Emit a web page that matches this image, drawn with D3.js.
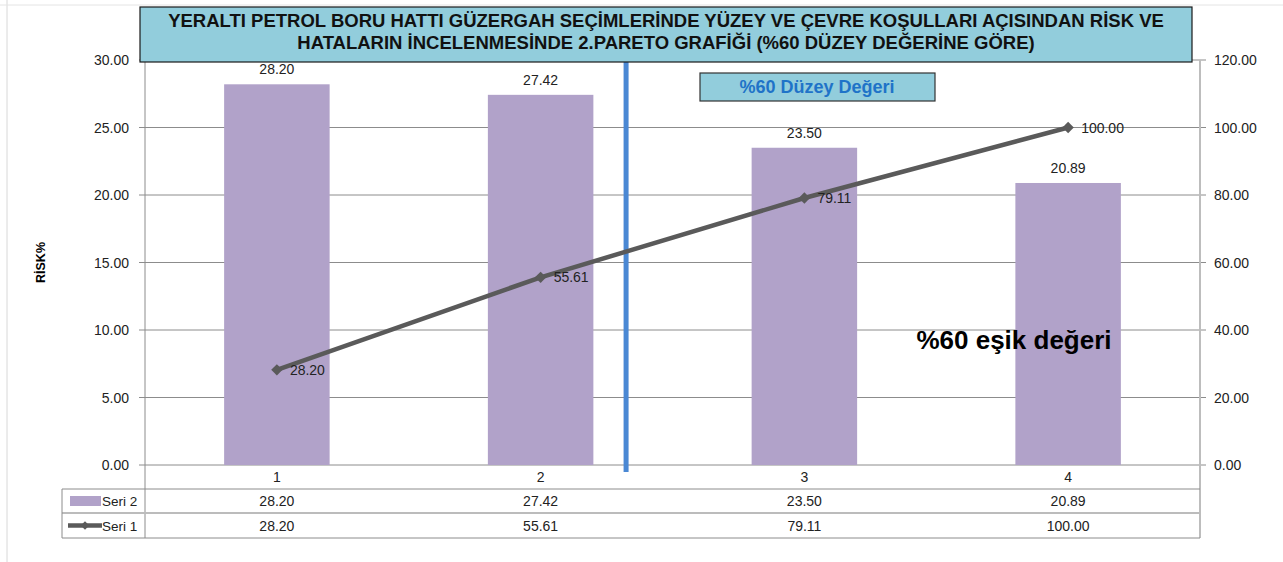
<!DOCTYPE html>
<html>
<head>
<meta charset="utf-8">
<script src="https://cdn.jsdelivr.net/npm/d3@7"></script>
<style>
  body { margin: 0; background: #fff; }
  text { font-family: "Liberation Sans", Arial, sans-serif; }
</style>
</head>
<body>
<div id="chart"></div>
<script>
var categories = ["1", "2", "3", "4"];
var seri2 = [28.20, 27.42, 23.50, 20.89];
var seri1 = [28.20, 55.61, 79.11, 100.00];
var leftTicks = [0, 5, 10, 15, 20, 25, 30];
var rightTicks = [0, 20, 40, 60, 80, 100, 120];
var titleLines = ["YERALTI PETROL BORU HATTI GÜZERGAH SEÇİMLERİNDE YÜZEY VE ÇEVRE KOŞULLARI AÇISINDAN RİSK VE",
                  "HATALARIN İNCELENMESİNDE  2.PARETO GRAFİĞİ (%60 DÜZEY DEĞERİNE GÖRE)"];
var thresholdIndex = 1.824; // position of the %60 line, in category units

var W = 1283, H = 562;
var pL = 145, pR = 1200, pT = 60, pB = 465;

var svg = d3.select("#chart")
    .append("svg")
    .attr("width", W)
    .attr("height", H);

// faint sheet gridlines
svg.append("line").attr("x1", 7).attr("x2", 7).attr("y1", 0).attr("y2", H)
    .attr("stroke", "#d8d8d8");
svg.append("line").attr("x1", 0).attr("x2", W).attr("y1", 5).attr("y2", 5)
    .attr("stroke", "#e4e4e4");

var x = d3.scaleBand()
    .domain(categories)
    .range([pL, pR])
    .paddingInner(0.6)
    .paddingOuter(0.3);
var xi = d3.scaleLinear().domain([0, 4]).range([pL, pR]);

var y = d3.scaleLinear().domain([0, 30]).range([pB, pT]);
var y2 = d3.scaleLinear().domain([0, 120]).range([pB, pT]);

// gridlines
svg.append("g")
    .selectAll("line")
    .data(leftTicks)
    .enter()
    .append("line")
      .attr("x1", pL - 6)
      .attr("x2", pR)
      .attr("y1", function(d) { return y(d); })
      .attr("y2", function(d) { return y(d); })
      .attr("stroke", "#8c8c8c")
      .attr("stroke-width", 1);

// left axis labels
svg.append("g")
    .selectAll("text")
    .data(leftTicks)
    .enter()
    .append("text")
      .attr("x", pL - 16)
      .attr("y", function(d) { return y(d) + 5; })
      .attr("text-anchor", "end")
      .attr("font-size", "14px")
      .attr("fill", "#222")
      .text(function(d) { return d.toFixed(2); });

// right axis
svg.append("g")
    .selectAll("line")
    .data(rightTicks)
    .enter()
    .append("line")
      .attr("x1", pR)
      .attr("x2", pR + 6)
      .attr("y1", function(d) { return y2(d); })
      .attr("y2", function(d) { return y2(d); })
      .attr("stroke", "#8c8c8c");
svg.append("g")
    .selectAll("text")
    .data(rightTicks)
    .enter()
    .append("text")
      .attr("x", pR + 14)
      .attr("y", function(d) { return y2(d) + 5; })
      .attr("font-size", "14px")
      .attr("fill", "#222")
      .text(function(d) { return d.toFixed(2); });

// axis title
svg.append("text")
    .attr("transform", "translate(45," + ((pT + pB) / 2) + ") rotate(-90)")
    .attr("text-anchor", "middle")
    .attr("font-size", "12.5px")
    .attr("font-weight", "bold")
    .text("RİSK%");

// bars
svg.append("g")
    .selectAll("rect")
    .data(seri2)
    .enter()
    .append("rect")
      .attr("x", function(d, i) { return x(categories[i]); })
      .attr("y", function(d) { return y(d); })
      .attr("width", x.bandwidth())
      .attr("height", function(d) { return pB - y(d); })
      .attr("fill", "#b1a2c9");

svg.append("g")
    .selectAll("text")
    .data(seri2)
    .enter()
    .append("text")
      .attr("x", function(d, i) { return x(categories[i]) + x.bandwidth() / 2; })
      .attr("y", function(d) { return y(d) - 10; })
      .attr("text-anchor", "middle")
      .attr("font-size", "14px")
      .attr("fill", "#222")
      .text(function(d) { return d.toFixed(2); });

// plot area border lines (extend down through table)
var tableTop = 489, rowMid = 513, tableBottom = 538, tableLeft = 62;
svg.append("line").attr("x1", pL).attr("x2", pL).attr("y1", pT).attr("y2", tableBottom)
    .attr("stroke", "#8c8c8c");
svg.append("line").attr("x1", pR).attr("x2", pR).attr("y1", pT).attr("y2", tableBottom)
    .attr("stroke", "#bdbdbd").attr("stroke-width", 2);

// threshold line
svg.append("line")
    .attr("x1", xi(thresholdIndex)).attr("x2", xi(thresholdIndex))
    .attr("y1", pT).attr("y2", pB + 7)
    .attr("stroke", "#4a88d4")
    .attr("stroke-width", 5);

// cumulative line
var cx = function(d, i) { return x(categories[i]) + x.bandwidth() / 2; };
var line = d3.line()
    .x(function(d, i) { return cx(d, i); })
    .y(function(d) { return y2(d); });
svg.append("path")
    .datum(seri1)
    .attr("d", line)
    .attr("fill", "none")
    .attr("stroke", "#5a5a5a")
    .attr("stroke-width", 4.5);
svg.append("g")
    .selectAll("path")
    .data(seri1)
    .enter()
    .append("path")
      .attr("d", d3.symbol().type(d3.symbolSquare).size(64))
      .attr("transform", function(d, i) { return "translate(" + cx(d, i) + "," + y2(d) + ") rotate(45)"; })
      .attr("fill", "#5a5a5a");
svg.append("g")
    .selectAll("text")
    .data(seri1)
    .enter()
    .append("text")
      .attr("x", function(d, i) { return cx(d, i) + 13; })
      .attr("y", function(d) { return y2(d) + 5; })
      .attr("font-size", "14px")
      .attr("fill", "#222")
      .text(function(d) { return d.toFixed(2); });

// category labels
svg.append("g")
    .selectAll("text")
    .data(categories)
    .enter()
    .append("text")
      .attr("x", function(d) { return x(d) + x.bandwidth() / 2; })
      .attr("y", 482)
      .attr("text-anchor", "middle")
      .attr("font-size", "14px")
      .attr("fill", "#222")
      .text(function(d) { return d; });

// data table
svg.append("line").attr("x1", tableLeft).attr("x2", pR).attr("y1", tableTop).attr("y2", tableTop)
    .attr("stroke", "#8c8c8c");
svg.append("line").attr("x1", tableLeft).attr("x2", pR).attr("y1", rowMid).attr("y2", rowMid)
    .attr("stroke", "#bcbcbc").attr("stroke-width", 2);
svg.append("line").attr("x1", tableLeft).attr("x2", pR).attr("y1", tableBottom).attr("y2", tableBottom)
    .attr("stroke", "#8c8c8c");
svg.append("line").attr("x1", tableLeft).attr("x2", tableLeft).attr("y1", tableTop).attr("y2", tableBottom)
    .attr("stroke", "#8c8c8c");

var rows = [
  { name: "Seri 2", values: seri2, y: (tableTop + rowMid) / 2 },
  { name: "Seri 1", values: seri1, y: (rowMid + tableBottom) / 2 }
];
rows.forEach(function(r) {
  svg.append("g")
    .selectAll("text")
    .data(r.values)
    .enter()
    .append("text")
      .attr("x", function(d, i) { return x(categories[i]) + x.bandwidth() / 2; })
      .attr("y", r.y + 5)
      .attr("text-anchor", "middle")
      .attr("font-size", "14px")
      .attr("fill", "#222")
      .text(function(d) { return d.toFixed(2); });
  svg.append("text")
    .attr("x", 102)
    .attr("y", r.y + 5)
    .attr("font-size", "13.5px")
    .attr("fill", "#222")
    .text(r.name);
});
// legend keys
svg.append("rect").attr("x", 70).attr("y", rows[0].y - 5).attr("width", 31).attr("height", 10)
    .attr("fill", "#b1a2c9");
svg.append("line").attr("x1", 68).attr("x2", 102).attr("y1", rows[1].y).attr("y2", rows[1].y)
    .attr("stroke", "#5a5a5a").attr("stroke-width", 4.5);
svg.append("path").attr("d", d3.symbol().type(d3.symbolSquare).size(36))
    .attr("transform", "translate(85," + rows[1].y + ") rotate(45)").attr("fill", "#5a5a5a");

// title box
svg.append("rect")
    .attr("x", 140).attr("y", 7).attr("width", 1052).attr("height", 55)
    .attr("fill", "#92cddc")
    .attr("stroke", "#1a1a1a")
    .attr("stroke-width", 1.2);
svg.append("g")
    .selectAll("text")
    .data(titleLines)
    .enter()
    .append("text")
      .attr("x", 666)
      .attr("y", function(d, i) { return 27 + i * 22; })
      .attr("text-anchor", "middle")
      .attr("font-size", "18.5px")
      .attr("font-weight", "bold")
      .attr("fill", "#111")
      .text(function(d) { return d; });

// level box
svg.append("rect")
    .attr("x", 700).attr("y", 73).attr("width", 235).attr("height", 28)
    .attr("fill", "#92cddc")
    .attr("stroke", "#333")
    .attr("stroke-width", 1.2);
svg.append("text")
    .attr("x", 817).attr("y", 93)
    .attr("text-anchor", "middle")
    .attr("font-size", "18px")
    .attr("font-weight", "bold")
    .attr("fill", "#1f73c8")
    .text("%60 Düzey Değeri");

// threshold note
svg.append("text")
    .attr("x", 1014).attr("y", 349)
    .attr("text-anchor", "middle")
    .attr("font-size", "26px")
    .attr("font-weight", "bold")
    .attr("fill", "#000")
    .text("%60 eşik değeri");
</script>
</body>
</html>
